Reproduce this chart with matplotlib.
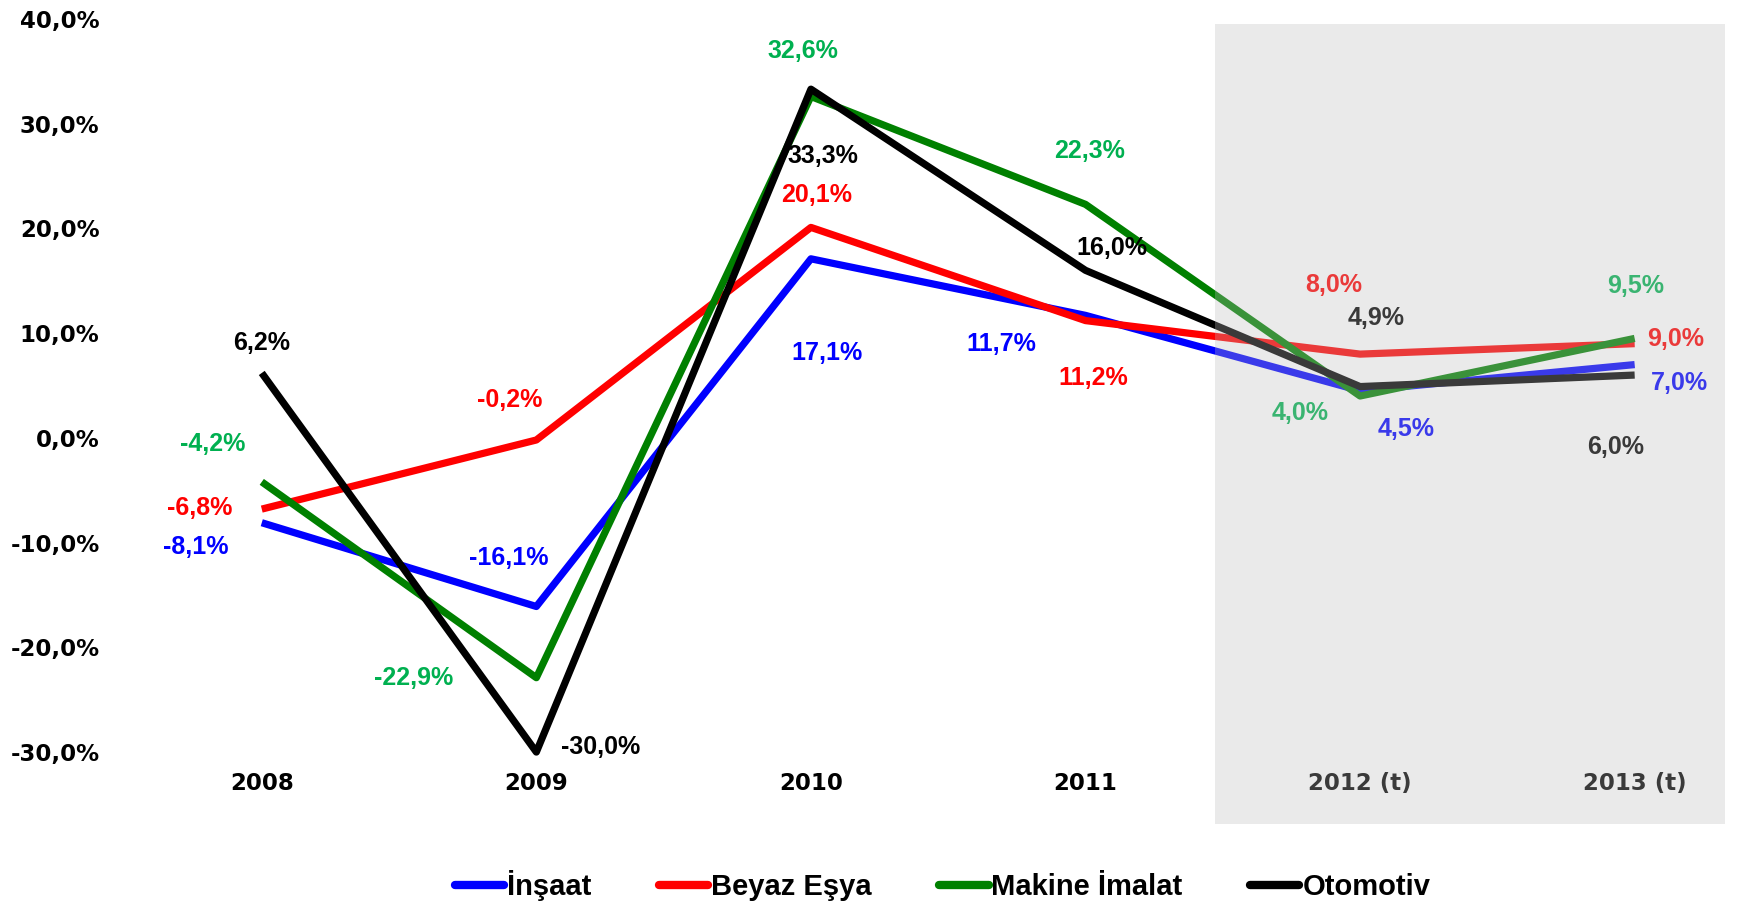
import matplotlib
matplotlib.use("Agg")
import matplotlib.pyplot as plt
from matplotlib.lines import Line2D

years = ["2008", "2009", "2010", "2011", "2012 (t)", "2013 (t)"]
insaat = [-8.1, -16.1, 17.1, 11.7, 4.5, 7.0]
beyaz_esya = [-6.8, -0.2, 20.1, 11.2, 8.0, 9.0]
makine = [-4.2, -22.9, 32.6, 22.3, 4.0, 9.5]
otomotiv = [6.2, -30.0, 33.3, 16.0, 4.9, 6.0]
series_names = ["İnşaat", "Beyaz Eşya", "Makine İmalat", "Otomotiv"]
y_ticks = [-30, -20, -10, 0, 10, 20, 30, 40]

line_colors = ["#0000FF", "#FF0000", "#008000", "#000000"]
label_colors = ["#0000FF", "#FF0000", "#00B050", "#000000"]

# label offsets in pixels (dx, dy) per series, per year
offsets = [
    [(-66, -24), (-28, 48), (16, -94), (-84, -29), (46, -38), (45, -18)],
    [(-62, 1), (-27, 40), (6, 32), (8, -57), (-26, 69), (41, 5)],
    [(-49, 38), (-123, 0), (-8, 45), (4, 53), (-60, -17), (1, 52)],
    [(0, 30), (64, 5), (12, -67), (26, 22), (16, 69), (-19, -72)],
]


def pct(v):
    return f"{v:.1f}".replace(".", ",") + "%"


fig = plt.figure(figsize=(17.39, 9.05), dpi=100)
ax = fig.add_axes([0.07, 0.088, 0.93, 0.891])
ax.set_xlim(-0.51, 5.38)
ax.set_ylim(-37, 40)

x = list(range(len(years)))
all_series = [insaat, beyaz_esya, makine, otomotiv]
for vals, lc, tc, offs in zip(all_series, line_colors, label_colors, offsets):
    ax.plot(x, vals, color=lc, lw=5.2, solid_capstyle="butt", zorder=2)
    for xi, v, (dx, dy) in zip(x, vals, offs):
        ax.annotate(pct(v), (xi, v), xytext=(dx, dy), textcoords="offset pixels",
                    ha="center", va="center", color=tc, fontsize=18,
                    fontweight="bold", family="Liberation Sans", zorder=4)

for xi, yr in zip(x, years):
    ax.text(xi, -33, yr, ha="center", va="center", fontsize=16.5,
            fontweight="bold", family="DejaVu Sans", zorder=4)

# forecast shading laid over lines and labels
ax.axvspan(3.47, 5.33, ymin=(-36.9 + 37) / 77, ymax=(39.5 + 37) / 77,
           color="#BDBDBD", alpha=0.31, lw=0, zorder=5)

ax.set_yticks(y_ticks)
ax.set_yticklabels([pct(v) for v in y_ticks], fontsize=16.5, fontweight="bold",
                   family="DejaVu Sans")
ax.tick_params(axis="y", length=0, pad=16)
ax.set_xticks([])
for s in ax.spines.values():
    s.set_visible(False)

handles = [Line2D([], [], color=c, lw=6, solid_capstyle="round") for c in line_colors]
fig.legend(handles, series_names, loc="center", bbox_to_anchor=(0.542, 0.021),
           ncol=4, frameon=False, handlelength=1.7, handletextpad=0.1,
           columnspacing=2.3,
           prop={"family": ["Liberation Sans Narrow", "Liberation Sans"],
                 "weight": "bold", "size": 21})

fig.savefig("out.png", dpi=100)
